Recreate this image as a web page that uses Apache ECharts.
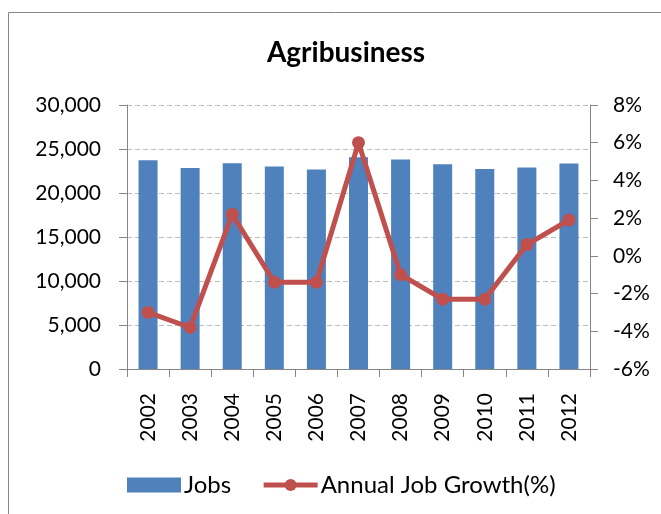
<!DOCTYPE html>
<html>
<head>
<meta charset="utf-8">
<script src="https://cdn.jsdelivr.net/npm/echarts@6/dist/echarts.min.js"></script>
<style>
    html, body { margin: 0; padding: 0; background: #fff; }
    #chart { width: 661px; height: 514px; }
</style>
</head>
<body>
<div id="chart"></div>
<script>
    // data
    var years = ['2002', '2003', '2004', '2005', '2006', '2007', '2008', '2009', '2010', '2011', '2012'];
    var jobs = [23720, 22840, 23380, 23000, 22660, 24060, 23800, 23260, 22730, 22890, 23340];
    var growth = [-3.0, -3.8, 2.2, -1.4, -1.4, 6.0, -1.0, -2.3, -2.3, 0.6, 1.9];

    var leftTicks = [0, 30000, 5000];
    var rightTicks = [-6, 8, 2];

    var fontName = 'Lato, "Liberation Sans", sans-serif';

    var chart = echarts.init(document.getElementById('chart'));

    var option = {
        backgroundColor: '#fff',
        animation: false,
        textStyle: { fontFamily: fontName },
        title: {
            text: 'Agribusiness',
            left: 341,
            textAlign: 'center',
            top: 34,
            textStyle: { fontSize: 28, fontWeight: 'bold', color: '#000', fontFamily: fontName }
        },
        graphic: [{
            type: 'rect',
            shape: { x: 8.5, y: 12.5, width: 700, height: 600 },
            style: { fill: 'none', stroke: '#888', lineWidth: 1 },
            silent: true,
            z: -1
        }],
        legend: {
            left: 122,
            top: 468,
            itemWidth: 54,
            itemHeight: 15,
            itemGap: 30,
            textStyle: { fontSize: 24, color: '#000', fontFamily: fontName, padding: [0, 0, 0, -2] },
            data: [
                { name: 'Jobs', icon: 'rect' },
                { name: 'Annual Job Growth(%)', lineStyle: { width: 5 } }
            ]
        },
        grid: {
            left: 127,
            right: 71,
            top: 105,
            bottom: 145
        },
        xAxis: {
            type: 'category',
            data: years,
            axisLine: { lineStyle: { color: '#868686', width: 1 } },
            axisTick: { show: true, length: 8, lineStyle: { color: '#868686' } },
            axisLabel: { rotate: 90, margin: 24, fontSize: 21, color: '#000', fontFamily: fontName }
        },
        yAxis: [
            {
                type: 'value',
                min: leftTicks[0],
                max: leftTicks[1],
                interval: leftTicks[2],
                axisLine: { show: true, lineStyle: { color: '#868686' } },
                axisTick: { show: true, length: 8, lineStyle: { color: '#868686' } },
                splitLine: { show: true, lineStyle: { color: '#BDBDBD', type: [5, 3], width: 1 } },
                axisLabel: {
                    margin: 26,
                    fontSize: 21,
                    color: '#000',
                    fontFamily: fontName,
                    formatter: function (v) { return v.toLocaleString('en-US'); }
                }
            },
            {
                type: 'value',
                position: 'right',
                min: rightTicks[0],
                max: rightTicks[1],
                interval: rightTicks[2],
                axisLine: { show: true, lineStyle: { color: '#868686' } },
                axisTick: { show: true, length: 8, lineStyle: { color: '#868686' } },
                splitLine: { show: false },
                axisLabel: {
                    margin: 23,
                    fontSize: 21,
                    color: '#000',
                    fontFamily: fontName,
                    formatter: function (v) { return v + '%'; }
                }
            }
        ],
        series: [
            {
                name: 'Jobs',
                type: 'bar',
                data: jobs,
                barWidth: 19,
                itemStyle: { color: '#4F81BD' }
            },
            {
                name: 'Annual Job Growth(%)',
                type: 'line',
                yAxisIndex: 1,
                data: growth,
                symbol: 'circle',
                symbolSize: 13,
                lineStyle: { color: '#C0504D', width: 5 },
                itemStyle: { color: '#C0504D' }
            }
        ]
    };

    chart.setOption(option);
</script>
</body>
</html>
